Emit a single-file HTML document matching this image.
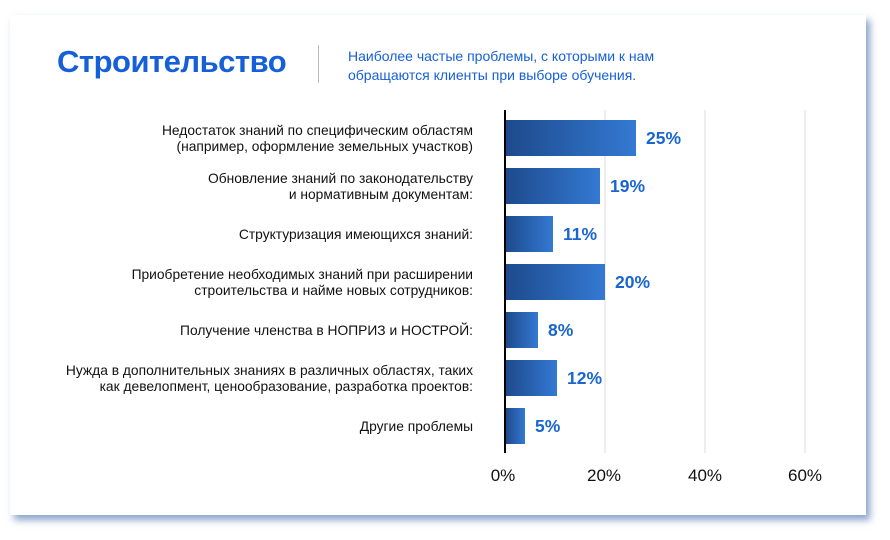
<!DOCTYPE html>
<html><head><meta charset="utf-8"><style>
body{margin:0;width:890px;height:540px;background:#fff;position:relative;overflow:hidden;font-family:"Liberation Sans","DejaVu Sans",sans-serif}
.card{position:absolute;left:10px;top:15px;width:856px;height:500px;background:#fff;box-shadow:4px 5px 7px rgba(40,90,160,0.55)}
.t{position:absolute;left:57px;top:44px;font-size:31px;font-weight:bold;color:#1560d8;letter-spacing:-0.5px}
.div{position:absolute;left:318px;top:45px;width:1px;height:38px;background:#bbb}
.sub{position:absolute;left:348px;top:47px;font-size:14px;line-height:19px;color:#1560d8}
.lab{position:absolute;right:417px;font-size:13.8px;line-height:16px;color:#111;text-align:right;white-space:nowrap}
.bar{position:absolute;left:506px;height:36px;background:linear-gradient(90deg,#1d4a8c,#3479d3)}
.v{position:absolute;font-size:17.5px;font-weight:bold;color:#1a66d0}
.g{position:absolute;top:110px;width:2px;height:343px;background:#eee}
.ax{position:absolute;left:504px;top:110px;width:2px;height:343px;background:#000}
.tk{position:absolute;top:466px;font-size:17px;color:#111;width:60px;text-align:center}
</style></head><body>
<div class="card"></div>
<div class="t">Строительство</div>
<div class="div"></div>
<div class="sub">Наиболее частые проблемы, с которыми к нам<br>обращаются клиенты при выборе обучения.</div>
<div class="g" style="left:604px"></div><div class="g" style="left:704px"></div><div class="g" style="left:804px"></div>
<div class="ax"></div>

<div class="lab" style="top:123px">Недостаток знаний по специфическим областям<br>(например, оформление земельных участков)</div>
<div class="bar" style="top:120px;width:130px"></div><div class="v" style="left:646px;top:128px">25%</div>

<div class="lab" style="top:171px">Обновление знаний по законодательству<br>и нормативным документам:</div>
<div class="bar" style="top:168px;width:94px"></div><div class="v" style="left:610px;top:176px">19%</div>

<div class="lab" style="top:227px">Структуризация имеющихся знаний:</div>
<div class="bar" style="top:216px;width:47px"></div><div class="v" style="left:563px;top:224px">11%</div>

<div class="lab" style="top:267px">Приобретение необходимых знаний при расширении<br>строительства и найме новых сотрудников:</div>
<div class="bar" style="top:264px;width:99px"></div><div class="v" style="left:615px;top:272px">20%</div>

<div class="lab" style="top:323px">Получение членства в НОПРИЗ и НОСТРОЙ:</div>
<div class="bar" style="top:312px;width:32px"></div><div class="v" style="left:548px;top:320px">8%</div>

<div class="lab" style="top:363px">Нужда в дополнительных знаниях в различных областях, таких<br>как девелопмент, ценообразование, разработка проектов:</div>
<div class="bar" style="top:360px;width:51px"></div><div class="v" style="left:567px;top:368px">12%</div>

<div class="lab" style="top:419px">Другие проблемы</div>
<div class="bar" style="top:408px;width:19px"></div><div class="v" style="left:535px;top:416px">5%</div>

<div class="tk" style="left:473px">0%</div>
<div class="tk" style="left:574px">20%</div>
<div class="tk" style="left:675px">40%</div>
<div class="tk" style="left:775px">60%</div>
</body></html>
